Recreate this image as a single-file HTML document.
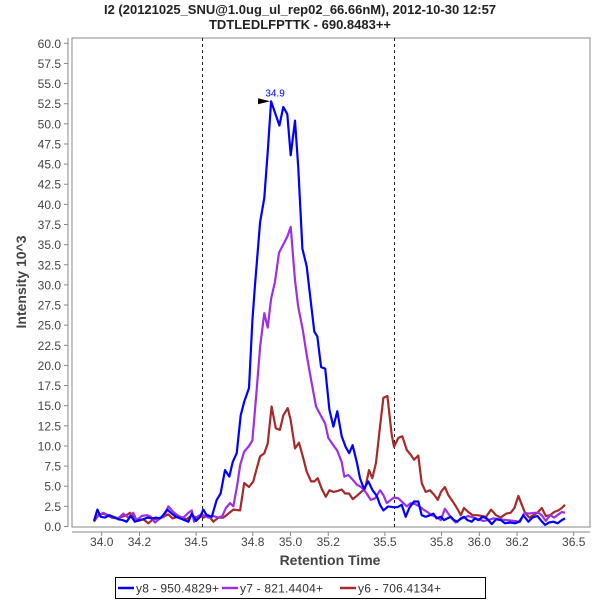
<!DOCTYPE html>
<html><head><meta charset="utf-8"><style>
body{margin:0;background:#fff;}
svg{display:block;font-family:"Liberation Sans",sans-serif;}
</style></head><body>
<svg id="chart" width="600" height="600" viewBox="0 0 600 600">
<text x="300" y="14" text-anchor="middle" font-size="13" font-weight="bold" fill="#222">I2 (20121025_SNU@1.0ug_ul_rep02_66.66nM), 2012-10-30 12:57</text>
<text x="300" y="29" text-anchor="middle" font-size="13" font-weight="bold" fill="#222">TDTLEDLFPTTK - 690.8483++</text>
<rect x="72" y="38" width="518" height="489" fill="#fff" stroke="#888" stroke-width="1"/>
<g id="yaxis"></g>
<g id="xaxis"></g>
<g id="markers"></g>
<g id="series"></g>
<text transform="translate(26,282) rotate(-90)" text-anchor="middle" font-size="14" font-weight="bold" fill="#444">Intensity 10^3</text>
<text x="330" y="565" text-anchor="middle" font-size="14" font-weight="bold" fill="#444">Retention Time</text>
<g>
<rect x="115.5" y="577.5" width="370" height="21" fill="#fff" stroke="#000"/>
<g><line x1="118" y1="588" x2="134" y2="588" stroke="#0000ff" stroke-width="2.5"/><text x="136" y="592.5" font-size="12" letter-spacing="0.2" fill="#333">y8 - 950.4829+</text></g>
<g><line x1="222" y1="588" x2="238" y2="588" stroke="#9b30e8" stroke-width="2.5"/><text x="240" y="592.5" font-size="12" letter-spacing="0.2" fill="#333">y7 - 821.4404+</text></g>
<g><line x1="340" y1="588" x2="356" y2="588" stroke="#a52a2a" stroke-width="2.5"/><text x="358" y="592.5" font-size="12" letter-spacing="0.2" fill="#333">y6 - 706.4134+</text></g>
</g>
</svg>
<script>
const yTicks=[0,2.5,5,7.5,10,12.5,15,17.5,20,22.5,25,27.5,30,32.5,35,37.5,40,42.5,45,47.5,50,52.5,55,57.5,60];
const xTicks=[34.0,34.2,34.5,34.8,35.0,35.2,35.5,35.8,36.0,36.2,36.5];
const xTickLabels=["34.0","34.2","34.5","34.8","35.0","35.2","35.5","35.8","36.0","36.2","36.5"];
const boundaries=[34.53,35.55];
const peakTime=[34.897];
const peakValue=[52.8];
const peakLabel=["34.9"];
const y8Times=[33.959,33.977,33.995,34.017,34.040,34.061,34.088,34.111,34.132,34.154,34.176,34.199,34.220,34.242,34.265,34.288,34.309,34.326,34.347,34.371,34.394,34.415,34.438,34.459,34.477,34.500,34.521,34.538,34.556,34.583,34.609,34.630,34.653,34.676,34.694,34.715,34.736,34.755,34.780,34.798,34.812,34.839,34.861,34.879,34.897,34.941,34.962,34.983,35.001,35.024,35.041,35.063,35.086,35.100,35.126,35.142,35.162,35.184,35.206,35.227,35.248,35.271,35.292,35.311,35.329,35.351,35.368,35.389,35.412,35.435,35.457,35.474,35.492,35.518,35.545,35.566,35.589,35.610,35.629,35.654,35.677,35.695,35.716,35.739,35.757,35.774,35.796,35.813,35.831,35.849,35.866,35.884,35.902,35.919,35.937,35.960,35.977,35.995,36.018,36.039,36.066,36.089,36.114,36.136,36.163,36.189,36.212,36.233,36.260,36.281,36.307,36.325,36.348,36.369,36.392,36.415,36.437,36.454];
const y8Values=[0.7,2.1,1.2,1.1,1.4,1.2,0.9,0.8,0.6,1.3,0.6,0.8,0.9,1.1,1.0,1.1,1.0,1.4,2.1,1.6,1.2,1.0,0.8,0.6,1.6,0.7,1.2,2.1,1.4,1.2,3.3,4.1,7.0,6.2,8.0,9.1,13.8,15.5,17.2,25.6,30.0,37.8,40.8,46.5,52.8,49.8,52.1,51.2,46.1,50.4,44.7,34.5,32.3,29.4,24.2,23.6,19.8,19.6,14.5,12.4,14.3,11.2,9.9,9.1,10.1,8.0,6.0,4.7,5.6,4.5,3.8,2.7,2.0,2.5,2.4,2.4,2.7,1.2,2.3,3.1,3.1,1.4,1.2,1.4,1.6,1.0,1.2,0.8,1.0,1.2,0.8,0.6,1.0,1.2,0.8,0.6,1.0,0.8,1.2,1.0,0.3,0.9,0.8,0.4,0.5,0.4,0.6,1.4,0.6,1.1,1.3,0.8,0.2,0.5,0.6,0.4,0.8,1.0];
const y7Times=[33.959,33.982,34.008,34.035,34.061,34.088,34.114,34.141,34.167,34.185,34.212,34.238,34.260,34.282,34.309,34.330,34.353,34.379,34.406,34.432,34.459,34.477,34.489,34.512,34.542,34.565,34.591,34.618,34.639,34.658,34.680,34.697,34.718,34.733,34.755,34.780,34.798,34.821,34.839,34.861,34.879,34.897,34.918,34.939,34.983,35.001,35.024,35.041,35.065,35.086,35.109,35.135,35.160,35.183,35.200,35.221,35.248,35.271,35.285,35.306,35.330,35.351,35.374,35.398,35.425,35.448,35.474,35.492,35.510,35.531,35.548,35.571,35.594,35.616,35.637,35.660,35.682,35.704,35.725,35.748,35.771,35.796,35.818,35.836,35.854,35.875,35.898,35.919,35.942,35.968,35.995,36.021,36.048,36.074,36.110,36.145,36.180,36.216,36.239,36.265,36.290,36.313,36.331,36.352,36.375,36.396,36.413,36.437,36.454];
const y7Values=[0.8,1.3,1.7,1.4,1.2,1.0,1.6,1.1,1.7,0.8,1.3,1.4,1.2,0.5,1.0,1.2,2.5,1.8,1.3,1.1,1.7,2.0,0.6,1.3,1.4,1.1,1.3,1.1,1.3,2.3,2.9,2.5,5.2,7.6,9.3,10.0,10.7,17.0,22.3,26.5,24.7,28.3,30.4,34.0,36.0,37.2,30.6,27.3,24.4,21.3,18.2,14.9,13.8,12.8,11.0,10.3,9.4,8.0,6.2,6.4,5.8,5.2,4.9,4.3,3.3,3.5,4.5,3.9,2.9,3.3,3.6,3.5,3.0,2.5,2.9,2.8,2.5,2.1,1.8,1.4,1.2,0.8,2.2,1.6,1.0,0.5,0.9,1.1,1.3,1.1,0.9,0.7,0.8,1.0,0.9,0.8,0.7,0.6,1.7,1.6,1.7,1.7,1.4,0.7,1.4,1.1,1.4,1.8,1.7];
const y6Times=[33.959,33.982,34.005,34.030,34.053,34.079,34.106,34.132,34.150,34.171,34.194,34.220,34.247,34.273,34.300,34.326,34.353,34.376,34.400,34.424,34.450,34.477,34.500,34.521,34.538,34.565,34.591,34.618,34.644,34.671,34.697,34.733,34.755,34.780,34.803,34.821,34.839,34.861,34.879,34.900,34.922,34.944,34.962,34.985,35.001,35.024,35.045,35.065,35.086,35.109,35.126,35.144,35.165,35.187,35.206,35.227,35.248,35.271,35.289,35.310,35.330,35.351,35.374,35.395,35.416,35.433,35.453,35.474,35.492,35.513,35.536,35.548,35.571,35.592,35.616,35.637,35.654,35.677,35.695,35.716,35.739,35.762,35.780,35.797,35.818,35.836,35.854,35.871,35.889,35.902,35.919,35.942,35.965,35.989,36.013,36.036,36.062,36.089,36.113,36.142,36.166,36.186,36.207,36.225,36.242,36.265,36.286,36.307,36.331,36.352,36.375,36.396,36.419,36.437,36.454];
const y6Values=[0.6,1.4,1.6,1.4,1.1,1.0,1.2,1.4,1.7,1.1,0.7,0.9,0.4,0.9,1.0,1.2,1.5,1.0,1.2,1.1,0.9,1.4,1.1,1.4,1.1,1.4,0.6,1.1,1.1,1.6,2.1,2.0,5.4,4.9,5.6,7.2,8.7,9.1,10.3,14.9,12.2,12.0,13.8,14.7,13.2,9.7,10.4,8.7,6.8,5.6,5.6,6.0,4.7,3.7,4.5,4.3,4.4,4.6,4.1,4.1,3.4,3.8,4.3,4.7,7.0,6.0,7.9,12.4,16.0,16.2,11.4,9.9,11.0,11.2,9.5,8.9,8.3,8.8,5.4,4.3,4.5,3.9,3.3,4.3,4.9,3.9,3.3,2.7,2.0,1.4,2.3,1.8,1.4,1.4,1.3,1.2,2.1,1.4,1.1,1.6,1.7,2.3,3.8,2.7,1.7,1.1,1.4,1.7,2.3,1.3,1.4,1.8,2.0,2.3,2.7];

const NS='http://www.w3.org/2000/svg';
const PL=72,PR=590,PT=38,PB=527;
function xScale(t){return 101.7+(t-34.0)*188.8;}
function yScale(v){return 526.5-v*8.053;}
function mk(tag,attrs,parent){const e=document.createElementNS(NS,tag);for(const k in attrs)e.setAttribute(k,attrs[k]);parent.appendChild(e);return e;}

const ya=document.getElementById('yaxis');
const yl=mk('line',{x1:68,y1:PT,x2:68,y2:PB,stroke:'#888'},ya);


yTicks.forEach(v=>{
  const y=yScale(v);
  const tk=mk('line',{x1:64,y1:y,x2:68,y2:y,stroke:'#888'},ya);
  
  
  const tx=mk('text',{x:61,y:y+4.5,'text-anchor':'end','font-size':12,fill:'#444'},ya);
  tx.textContent=v.toFixed(1);
  
  
});
const xa=document.getElementById('xaxis');
const xl=mk('line',{x1:PL,y1:532,x2:PR,y2:532,stroke:'#888'},xa);


xTicks.forEach((t,i)=>{
  const x=xScale(t);
  const tk=mk('line',{x1:x,y1:532,x2:x,y2:536,stroke:'#888'},xa);
  
  
  const tx=mk('text',{x:x,y:546,'text-anchor':'middle','font-size':12,fill:'#444'},xa);
  tx.textContent=xTickLabels[i];
  
  
});
const mg=document.getElementById('markers');
boundaries.forEach(t=>{
  const x=Math.round(xScale(t))+0.5;
  const l=mk('line',{x1:x,y1:PT,x2:x,y2:PB,stroke:'#222','stroke-dasharray':'3,3'},mg);
  
  
});
const sg=document.getElementById('series');
function drawSeries(ts,vs,color,name){
  const pts=ts.map((t,i)=>xScale(t).toFixed(1)+','+yScale(vs[i]).toFixed(1)).join(' ');
  const p=mk('polyline',{points:pts,fill:'none',stroke:color,'stroke-width':2.2,'stroke-linejoin':'round'},sg);
  
  
}
drawSeries(y6Times,y6Values,'#a52a2a','series-y6');
drawSeries(y7Times,y7Values,'#9b30e8','series-y7');
drawSeries(y8Times,y8Values,'#0000ff','series-y8');
const px=xScale(peakTime[0]),py=yScale(peakValue[0]);
const ar=mk('polygon',{points:(px-13)+','+(py-3)+' '+(px-1)+','+(py)+' '+(px-13)+','+(py+3),fill:'#000'},sg);


const pl=mk('text',{x:px+4,y:py-5,'text-anchor':'middle','font-size':10,fill:'#0000ff'},sg);
pl.textContent=peakLabel[0];


</script>
</body></html>
